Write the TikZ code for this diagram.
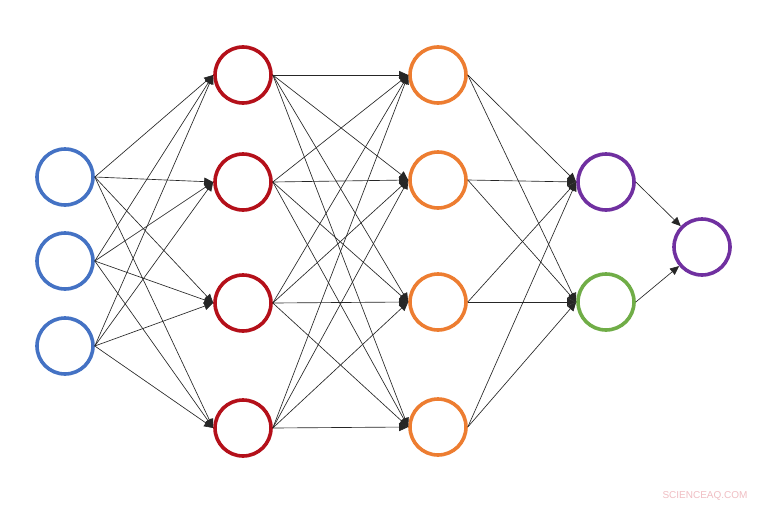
\documentclass[tikz,border=0pt]{standalone}
\usepackage{fontspec}
\setsansfont{Liberation Sans}
\usetikzlibrary{arrows.meta}
\definecolor{cblue}{RGB}{68,114,196}
\definecolor{cred}{RGB}{180,16,26}
\definecolor{corange}{RGB}{237,125,49}
\definecolor{cpurple}{RGB}{112,48,160}
\definecolor{cgreen}{RGB}{112,173,71}
\definecolor{cwm}{RGB}{240,190,195}
\tikzset{
  neuron/.style={circle,draw=#1,line width=3.6pt,minimum size=56pt,inner sep=0pt,fill=white},
  link/.style={draw=black!85,line width=0.65pt,-{Triangle[length=9pt,width=8pt]}},
  lab/.style={font=\sffamily\fontsize{10}{11}\selectfont,text=cwm}
}
\begin{document}
\begin{tikzpicture}[x=1pt,y=-1pt]
\useasboundingbox (0,0) rectangle (762,506);
\fill[white] (0,0) rectangle (762,506);
% input layer
\node[neuron=cblue] (i1) at (65,177) {};
\node[neuron=cblue] (i2) at (65,261) {};
\node[neuron=cblue] (i3) at (65,346) {};
% hidden 1
\node[neuron=cred] (a1) at (243,75) {};
\node[neuron=cred] (a2) at (243,182) {};
\node[neuron=cred] (a3) at (243,303) {};
\node[neuron=cred] (a4) at (243,428) {};
% hidden 2
\node[neuron=corange] (b1) at (438,75) {};
\node[neuron=corange] (b2) at (438,180) {};
\node[neuron=corange] (b3) at (438,302) {};
\node[neuron=corange] (b4) at (438,427) {};
% hidden 3
\node[neuron=cpurple] (c1) at (606,182) {};
\node[neuron=cgreen] (c2) at (606,302) {};
% output
\node[neuron=cpurple] (o) at (702,247) {};
% connections
\foreach \s in {i1,i2,i3}
  \foreach \t in {a1,a2,a3,a4}
    \draw[link] (\s.east) -- (\t.west);
\foreach \s in {a1,a2,a3,a4}
  \foreach \t in {b1,b2,b3,b4}
    \draw[link] (\s.east) -- (\t.west);
\foreach \s in {b1,b2,b3,b4}
  \foreach \t in {c1,c2}
    \draw[link] (\s.east) -- (\t.west);
\draw[link] (c1.east) -- (o);
\draw[link] (c2.east) -- (o);
\node[lab] (wm) at (705,496) {SCIENCEAQ.COM};
\end{tikzpicture}
\end{document}
